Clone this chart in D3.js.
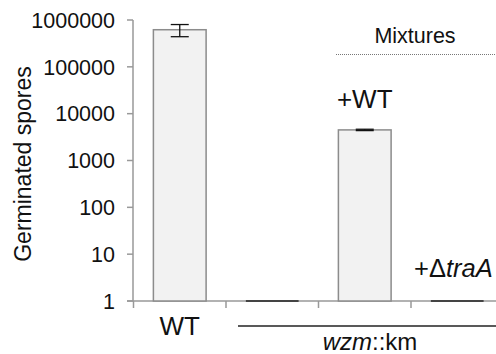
<!DOCTYPE html>
<html>
<head>
<meta charset="utf-8">
<script src="https://cdn.jsdelivr.net/npm/d3@7"></script>
<style>
  body { margin: 0; background: #fff; }
  svg { display: block; font-family: "Liberation Sans", Arial, sans-serif; }
</style>
</head>
<body>
<svg id="chart" width="496" height="354"></svg>
<script>
// data
const categories = ["WT", "wzm", "wzm+WT", "wzm+traA"];
const values = [620000, 1, 4500, 1];
const errors = [180000, 0, 150, 0];
const yTicks = [1, 10, 100, 1000, 10000, 100000, 1000000];

const svg = d3.select("#chart");

const x = d3.scaleBand()
  .domain(categories)
  .range([133.5, 503.5])
  .padding(0);

const y = d3.scaleLog()
  .domain([1, 1e6])
  .range([301, 20]);

const barW = x.bandwidth() * 0.57;
const cx = d => x(d) + x.bandwidth() / 2;

// y axis
const yAxis = svg.append("g").attr("transform", "translate(133,0)");
yAxis.append("line")
  .attr("y1", y(1e6)).attr("y2", y(1))
  .attr("stroke", "#999").attr("stroke-width", 1.5);
yAxis.selectAll(".tick").data(yTicks).join("line")
  .attr("x1", -6).attr("x2", 0)
  .attr("y1", d => y(d)).attr("y2", d => y(d))
  .attr("stroke", "#999").attr("stroke-width", 1.5);
yAxis.selectAll("text").data(yTicks).join("text")
  .attr("x", -18)
  .attr("y", d => y(d))
  .attr("dy", "0.36em")
  .attr("text-anchor", "end")
  .attr("font-size", 21.5)
  .attr("fill", "#111")
  .text(d => d);

// x axis
const xAxis = svg.append("g");
xAxis.append("line")
  .attr("x1", 127).attr("x2", 496)
  .attr("y1", y(1)).attr("y2", y(1))
  .attr("stroke", "#999").attr("stroke-width", 1.5);
xAxis.selectAll("line.tick").data(categories).join("line")
  .attr("class", "tick")
  .attr("x1", d => x(d)).attr("x2", d => x(d))
  .attr("y1", y(1)).attr("y2", y(1) + 7)
  .attr("stroke", "#999").attr("stroke-width", 1.5);

// bars
const bars = svg.append("g");
categories.forEach((c, i) => {
  const v = values[i];
  if (v > 1) {
    bars.append("rect")
      .attr("x", cx(c) - barW / 2)
      .attr("y", y(v))
      .attr("width", barW)
      .attr("height", y(1) - y(v))
      .attr("fill", "#f2f2f2")
      .attr("stroke", "#8c8c8c")
      .attr("stroke-width", 1.5);
  } else {
    bars.append("line")
      .attr("x1", cx(c) - barW / 2).attr("x2", cx(c) + barW / 2)
      .attr("y1", y(v)).attr("y2", y(v))
      .attr("stroke", "#444").attr("stroke-width", 2);
  }
  if (errors[i] > 0) {
    const lo = y(v - errors[i]), hi = y(v + errors[i]);
    const eb = bars.append("g").attr("stroke", "#111").attr("stroke-width", 1.3);
    eb.append("line").attr("x1", cx(c)).attr("x2", cx(c)).attr("y1", lo).attr("y2", hi);
    eb.append("line").attr("x1", cx(c) - 9).attr("x2", cx(c) + 9).attr("y1", lo).attr("y2", lo);
    eb.append("line").attr("x1", cx(c) - 9).attr("x2", cx(c) + 9).attr("y1", hi).attr("y2", hi);
  }
});

// y title
svg.append("text")
  .attr("transform", "translate(31,164) rotate(-90)")
  .attr("text-anchor", "middle")
  .attr("font-size", 23)
  .attr("fill", "#111")
  .text("Germinated spores");

// Mixtures label + dotted line
svg.append("text")
  .attr("x", 415).attr("y", 43)
  .attr("text-anchor", "middle")
  .attr("font-size", 21.5)
  .attr("fill", "#111")
  .text("Mixtures");
svg.append("line")
  .attr("x1", 336).attr("x2", 496)
  .attr("y1", 54.5).attr("y2", 54.5)
  .attr("stroke", "#777").attr("stroke-width", 1)
  .attr("stroke-dasharray", "1,1");

// bar annotations
svg.append("text")
  .attr("x", cx("wzm+WT")).attr("y", 108)
  .attr("text-anchor", "middle")
  .attr("font-size", 26)
  .attr("fill", "#111")
  .text("+WT");

const t4 = svg.append("text")
  .attr("x", 414).attr("y", 277)
  .attr("font-size", 25.5)
  .attr("fill", "#111");
t4.append("tspan").text("+Δ");
t4.append("tspan").attr("font-style", "italic").text("traA");

// x labels
svg.append("text")
  .attr("x", cx("WT")).attr("y", 335)
  .attr("text-anchor", "middle")
  .attr("font-size", 26)
  .attr("fill", "#111")
  .text("WT");

svg.append("line")
  .attr("x1", 238).attr("x2", 496)
  .attr("y1", 326).attr("y2", 326)
  .attr("stroke", "#222").attr("stroke-width", 1.3);

const t5 = svg.append("text")
  .attr("x", 370).attr("y", 350)
  .attr("text-anchor", "middle")
  .attr("font-size", 24)
  .attr("fill", "#111");
t5.append("tspan").attr("font-style", "italic").text("wzm");
t5.append("tspan").text("::km");
</script>
</body>
</html>
